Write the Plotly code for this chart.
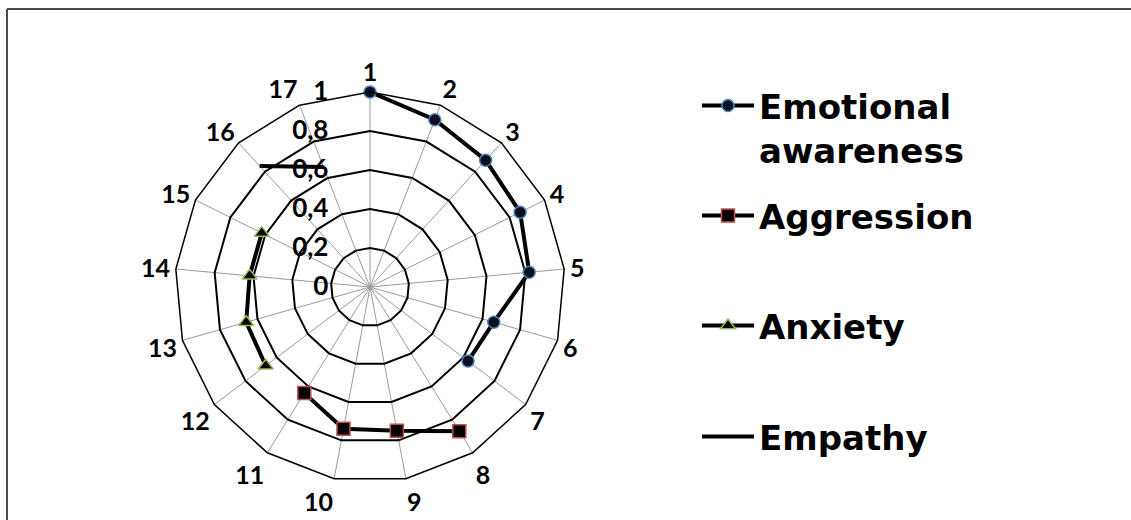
import plotly.graph_objects as go

# Axis categories (17 items around the radar)
categories = [str(i) for i in range(1, 18)]

# Series values (None = no point at that category)
emotional_awareness = [1.0, 0.92, 0.88, 0.86, 0.82, 0.66, 0.63] + [None] * 10
aggression = [None] * 7 + [0.87, 0.75, 0.74, 0.64] + [None] * 6
anxiety = [None] * 11 + [0.67, 0.66, 0.62, 0.62] + [None] * 2
empathy = [None] * 15 + [0.84, 0.66]

# Radial tick values and their labels (decimal comma)
radial_ticks = [0, 0.2, 0.4, 0.6, 0.8, 1]
radial_tick_labels = ["0", "0,2", "0,4", "0,6", "0,8", "1"]

W, H = 1131, 520
NUM_FONT = "Lato"
LEGEND_FONT = "DejaVu Sans"

cx, cy, R = 370, 287, 195  # centre and outer radius in pixels

fig = go.Figure()

fig.add_trace(go.Scatterpolar(
    r=emotional_awareness, theta=categories, name="Emotional<br>awareness",
    mode="lines+markers", line=dict(color="black", width=4),
    marker=dict(symbol="circle", size=12, color="#0b0f1e",
                line=dict(color="#4f81bd", width=1.5)),
    legend="legend",
))
fig.add_trace(go.Scatterpolar(
    r=aggression, theta=categories, name="Aggression",
    mode="lines+markers", line=dict(color="black", width=4),
    marker=dict(symbol="square", size=13, color="black",
                line=dict(color="#c0504d", width=1.5)),
    legend="legend2",
))
fig.add_trace(go.Scatterpolar(
    r=anxiety, theta=categories, name="Anxiety",
    mode="lines+markers", line=dict(color="black", width=4),
    marker=dict(symbol="triangle-up", size=13, color="black",
                line=dict(color="#9bbb59", width=1.5)),
    legend="legend3",
))
fig.add_trace(go.Scatterpolar(
    r=empathy, theta=categories, name="Empathy",
    mode="lines", line=dict(color="black", width=4),
    legend="legend4",
))

legend_font = dict(family=LEGEND_FONT, size=34, color="black", weight="bold")


def legend_at(y_px):
    return dict(
        x=697 / W, y=1 - y_px / H, xanchor="left", yanchor="top",
        font=legend_font, bgcolor="rgba(0,0,0,0)", valign="top",
        itemwidth=52,
    )


fig.update_layout(
    width=W, height=H,
    margin=dict(l=0, r=0, t=0, b=0),
    paper_bgcolor="white", plot_bgcolor="white",
    showlegend=True,
    legend=legend_at(77),
    legend2=legend_at(187),
    legend3=legend_at(297),
    legend4=legend_at(408),
    polar=dict(
        domain=dict(x=[(cx - R) / W, (cx + R) / W],
                    y=[(H - cy - R) / H, (H - cy + R) / H]),
        gridshape="linear",
        bgcolor="white",
        angularaxis=dict(
            direction="clockwise", rotation=90,
            categoryorder="array", categoryarray=categories,
            showline=True, linecolor="black", linewidth=1.5,
            gridcolor="#9a9a9a", gridwidth=1.2,
            ticks="",
            tickfont=dict(family=NUM_FONT, size=25, color="black", weight="bold"),
        ),
        radialaxis=dict(
            range=[0, 1], angle=90, side="counterclockwise", tickangle=90,
            tickvals=radial_ticks, ticktext=radial_tick_labels,
            showline=False,
            ticks="outside", ticklen=32, tickcolor="rgba(0,0,0,0)",
            gridcolor="black", gridwidth=1.5,
            tickfont=dict(family=NUM_FONT, size=26, color="black", weight="bold"),
            layer="above traces",
        ),
    ),
    shapes=[
        dict(type="line", xref="paper", yref="paper",
             x0=7 / W, x1=1, y0=1 - 9 / H, y1=1 - 9 / H,
             line=dict(color="#4a4a4a", width=2)),
        dict(type="line", xref="paper", yref="paper",
             x0=7 / W, x1=7 / W, y0=0, y1=1 - 9 / H,
             line=dict(color="#4a4a4a", width=2)),
    ],
)

fig.write_html("out.html")
